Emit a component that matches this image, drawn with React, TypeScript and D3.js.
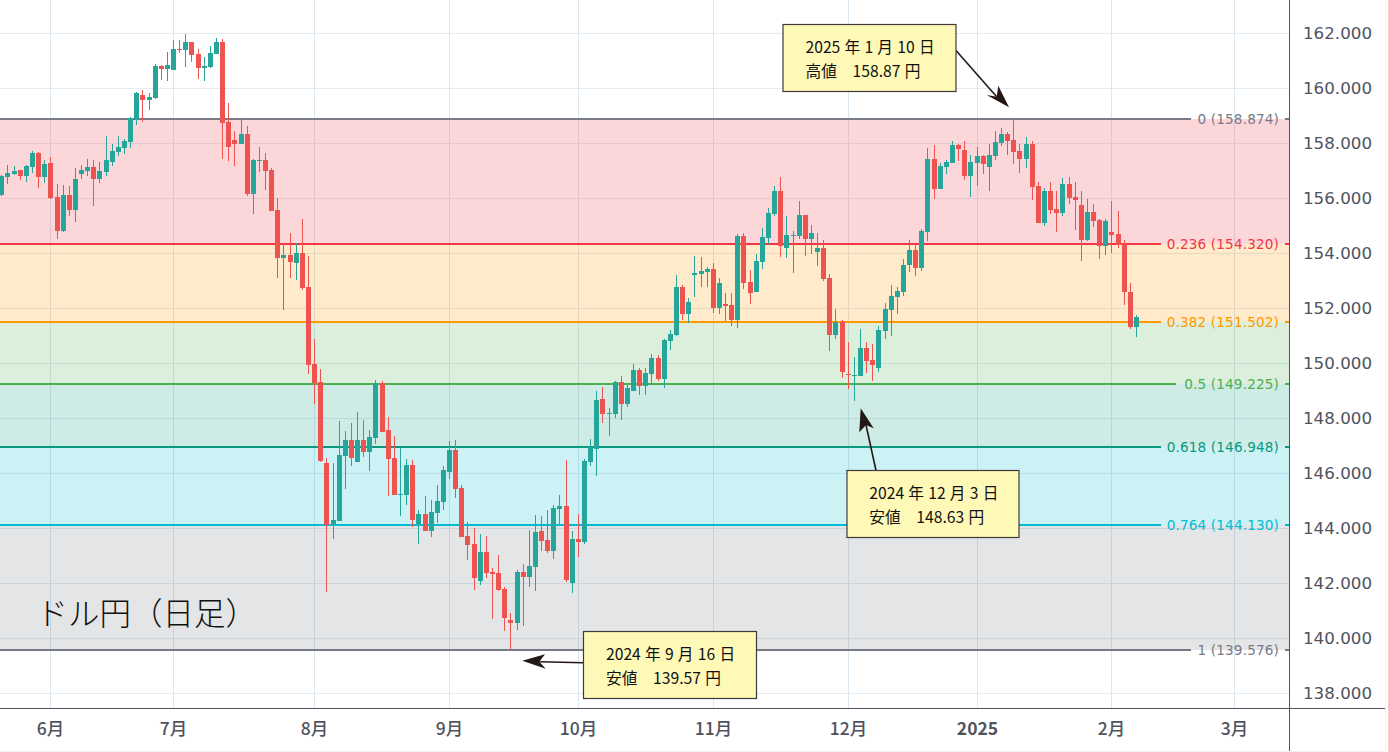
import React from "react";
import * as d3 from "d3";

const opens = [156.11,156.78,156.88,157.03,156.81,157.14,157.65,156.78,157.29,156.05,154.81,156.12,155.58,156.88,156.99,157.14,156.70,156.96,157.32,157.69,157.83,158.05,158.89,159.76,159.58,159.65,160.81,160.70,160.67,161.43,161.39,161.68,161.25,160.74,160.78,161.25,161.68,158.78,158.12,157.98,158.34,156.16,157.36,157.39,157.03,155.58,153.83,153.94,153.65,154.01,152.78,149.97,149.32,146.38,144.12,144.27,146.63,147.21,146.41,147.21,146.78,147.28,149.28,147.58,146.56,145.21,145.21,146.30,144.16,144.52,143.90,144.56,144.96,146.05,146.85,145.47,143.72,143.43,142.08,143.14,142.41,142.37,141.79,140.67,140.56,142.41,142.23,142.59,143.90,143.58,143.18,144.70,144.81,142.01,143.61,143.50,146.41,146.88,148.70,148.16,148.16,149.32,148.52,148.99,149.76,149.18,149.61,150.19,149.43,150.81,151.03,152.78,151.79,153.21,153.25,153.32,153.43,152.01,152.16,152.12,151.58,154.63,152.96,152.59,153.68,154.56,155.43,156.27,154.19,154.63,154.63,155.39,154.52,154.05,154.19,153.10,151.03,151.50,149.61,149.54,149.54,150.56,150.12,149.83,151.18,151.94,152.41,152.59,153.58,154.12,153.47,154.78,157.43,156.34,157.14,157.28,157.94,157.76,156.81,157.28,157.54,157.14,157.54,158.01,158.34,158.12,157.72,157.43,157.98,156.45,155.10,156.27,155.61,155.47,156.52,156.05,155.74,154.49,155.50,155.21,154.27,154.78,154.70,154.34,152.59,151.32];
const highs = [156.85,157.21,157.18,157.03,157.21,157.72,157.69,157.39,157.50,156.52,156.48,156.45,157.10,157.21,157.43,157.39,157.32,158.27,157.98,158.27,158.16,158.96,159.87,159.94,159.80,160.89,160.85,161.32,161.76,161.76,161.98,161.68,161.43,161.14,161.54,161.83,161.79,159.47,158.45,158.89,158.63,157.43,157.87,157.65,157.10,156.01,154.34,154.74,154.38,155.25,153.90,150.88,149.79,146.56,146.38,147.90,147.54,147.83,148.23,147.94,147.58,149.39,149.36,148.05,147.36,146.92,146.52,146.48,144.67,145.18,145.03,145.58,146.27,147.17,147.21,145.58,144.23,144.01,143.79,143.72,142.56,143.03,141.87,140.92,142.49,142.70,143.94,144.48,144.45,144.67,144.85,145.21,146.48,143.90,144.52,146.52,147.25,148.99,149.14,148.38,149.36,149.54,149.25,149.98,149.83,149.83,150.34,150.30,150.88,151.21,153.21,152.85,152.38,153.90,153.87,153.50,153.65,153.10,152.56,152.56,154.70,154.74,153.39,153.98,154.92,155.65,156.45,156.78,155.36,154.81,155.90,155.39,155.03,154.74,154.48,153.25,151.98,151.58,150.78,150.23,151.25,150.78,150.70,151.36,152.19,152.85,152.78,153.79,154.48,154.34,154.89,157.83,157.94,157.28,157.39,158.08,157.98,158.08,157.58,157.87,157.58,157.98,158.45,158.56,158.41,158.87,157.98,158.23,158.08,156.57,156.38,156.59,156.27,156.74,156.78,156.59,156.27,155.98,155.79,155.25,155.25,155.90,155.54,154.49,152.92,151.76];
const lows = [156.09,156.52,156.85,156.67,156.60,156.92,156.38,156.56,155.98,154.52,154.78,155.36,155.14,156.70,156.81,155.72,156.56,156.81,157.18,157.54,157.61,157.83,158.67,158.78,159.21,159.61,160.30,160.27,160.67,161.29,160.78,160.96,160.34,160.27,160.74,161.25,157.43,157.36,157.18,157.98,156.09,155.40,156.96,156.30,155.54,153.10,151.94,153.10,153.03,152.67,149.61,148.52,146.41,141.69,143.61,144.27,145.43,146.27,146.41,146.59,146.08,147.07,147.50,145.18,145.21,144.45,144.85,144.05,143.43,143.90,143.68,144.19,144.67,145.79,145.10,143.68,142.85,141.76,141.94,142.19,140.70,141.72,140.27,139.61,140.30,140.45,141.87,141.72,143.18,143.10,142.88,144.12,142.05,141.65,142.96,143.43,146.27,145.90,147.83,147.36,148.01,147.94,148.41,148.99,148.85,148.85,149.25,149.36,149.10,150.48,150.99,151.58,151.47,152.41,152.78,152.78,151.83,151.79,151.54,151.36,151.29,152.70,152.16,152.59,153.43,154.34,155.36,153.87,153.83,153.28,154.52,153.90,153.98,153.54,152.99,150.45,150.88,149.47,149.07,148.63,149.54,149.65,149.36,149.68,150.88,150.99,151.79,152.45,153.32,153.18,153.36,154.45,155.98,156.34,156.89,157.28,157.36,156.67,156.05,156.45,156.89,156.27,157.39,157.90,157.58,157.25,156.92,157.10,155.94,155.10,154.99,155.43,154.78,155.36,155.77,154.85,153.72,154.45,154.96,153.79,153.94,154.01,154.19,152.12,151.25,150.96];
const closes = [156.81,156.92,156.99,156.81,157.18,157.65,156.78,157.25,156.01,154.81,156.12,155.58,156.70,157.03,157.14,156.70,156.99,157.39,157.72,157.87,158.08,158.92,159.80,159.58,159.69,160.81,160.70,160.85,161.43,161.39,161.68,161.21,160.74,160.81,161.29,161.68,158.74,157.87,157.98,158.34,156.16,157.39,157.39,156.99,155.54,153.83,153.94,153.69,154.01,152.74,149.94,149.27,146.45,144.12,144.30,146.67,147.21,146.56,147.21,146.78,147.32,149.28,147.50,146.52,145.21,145.25,146.30,144.30,144.52,143.90,144.59,144.99,146.12,146.85,145.43,143.68,143.39,142.19,143.14,142.37,142.34,141.76,140.74,140.56,142.41,142.23,142.63,143.87,143.54,143.18,144.74,144.81,142.12,143.61,143.50,146.45,146.96,148.67,148.16,148.19,149.32,148.52,149.10,149.76,149.18,149.65,150.19,149.43,150.85,151.07,152.78,151.79,152.23,153.28,153.36,153.43,152.01,152.92,152.08,151.58,154.63,152.92,152.56,153.72,154.59,155.47,156.27,154.27,154.67,154.67,155.39,154.52,154.74,154.19,153.07,151.03,151.50,149.68,149.58,149.58,150.56,150.09,149.94,151.21,151.98,152.45,152.63,153.58,154.12,153.47,154.81,157.43,156.34,157.18,157.32,157.94,157.79,156.81,157.32,157.54,157.25,157.58,158.05,158.34,158.08,157.69,157.43,157.98,156.41,155.10,156.27,155.58,155.47,156.52,156.01,155.94,154.49,155.50,155.18,154.27,155.18,154.67,154.30,152.58,151.32,151.68];

const priceTicks = [162,160,158,156,154,152,150,148,146,144,142,140,138];
const monthLabels = ["6月","7月","8月","9月","10月","11月","12月","2025","2月","3月"];
const monthIndex = [8,28,51,73,94,116,138,159,181,201];
const fibRatios = ["0","0.236","0.382","0.5","0.618","0.764","1"];
const fibPrices = [158.874,154.320,151.502,149.225,146.948,144.130,139.576];
const fibLine = ["#787b86","#f23645","#ff9800","#4caf50","#089981","#00bcd4","#787b86"];
const fibBand = ["rgba(242,54,69,0.2)","rgba(255,152,0,0.2)","rgba(76,175,80,0.2)","rgba(8,153,129,0.2)","rgba(0,188,212,0.2)","rgba(120,123,134,0.2)"];
const title = "ドル円（日足）";
const notes = [
  { l1: "2025 年 1 月 10 日", l2: "高値　158.87 円" },
  { l1: "2024 年 12 月 3 日", l2: "安値　148.63 円" },
  { l1: "2024 年 9 月 16 日", l2: "安値　139.57 円" },
];

const UP = "#26a69a";
const DOWN = "#ef5350";
const W = 1388, H = 752, PANE_R = 1289, PANE_B = 708;
const AXIS = "#50535e";
const CJK = "'Noto Sans CJK JP', sans-serif";
const LATIN = "'DejaVu Sans', sans-serif";

const y = d3.scaleLinear().domain([138, 162]).range([693, 33]);
const x = d3.scaleLinear().domain([0, 185]).range([1.85, 1136.52]);
const px = (i: number) => Math.floor(x(i));
const fibY = (p: number) => Math.round(y(p) + 0.15);

const boxes = [
  { x: 783, y: 24.5, w: 173, h: 67, tx: 805.5, b1: 53.3, b2: 76.5 },
  { x: 847, y: 470.5, w: 172, h: 67, tx: 869.3, b1: 499.3, b2: 522.5 },
  { x: 583.5, y: 631.5, w: 173, h: 67, tx: 606, b1: 660.3, b2: 683.5 },
];
const arrows = [
  { from: [956, 50.5], to: [996.7, 96.7], head: "1009,107.3 986.7,95 996.7,96.7 998.3,85.7" },
  { from: [876, 470.5], to: [866, 425], head: "860.7,408.3 859.3,432.3 866,425 873.7,428.3" },
  { from: [583.5, 662.7], to: [539.3, 661.7], head: "522.3,660.7 545,654.3 539.3,661.7 545.7,668.7" },
];

export default function App() {
  return (
    <svg width={W} height={H} viewBox={`0 0 ${W} ${H}`} style={{ position: "fixed", left: 0, top: 0, background: "#fff" }}>
      <g shapeRendering="crispEdges">
        {priceTicks.map((t) => (
          <rect key={t} x={0} y={Math.round(y(t)) - 0.5} width={PANE_R} height={1} fill="#e2ecf2" />
        ))}
        {monthIndex.map((m) => (
          <rect key={m} x={px(m)} y={0} width={1} height={PANE_B} fill="#dbe7f0" />
        ))}
        {fibBand.map((c, i) => (
          <rect key={c} x={0} y={fibY(fibPrices[i])} width={PANE_R} height={fibY(fibPrices[i + 1]) - fibY(fibPrices[i])} fill={c} />
        ))}
      </g>
      <g fontFamily={LATIN} fontSize={13.6} textAnchor="end" letterSpacing={0.15}>
        {fibRatios.map((r, i) => {
          const label = `${r} (${fibPrices[i].toFixed(3)})`;
          const end = 1279 - label.length * 7.4 - 7;
          const yy = fibY(fibPrices[i]);
          return (
            <g key={r}>
              <rect x={0} y={yy - 1} width={end} height={2} fill={fibLine[i]} shapeRendering="crispEdges" />
              <rect x={1285} y={yy - 1} width={4} height={2} fill={fibLine[i]} shapeRendering="crispEdges" />
              <text x={1279} y={yy + 5} fill={fibLine[i]}>{label}</text>
            </g>
          );
        })}
      </g>
      <g shapeRendering="crispEdges">
        {closes.map((c, i) => {
          const col = c >= opens[i] ? UP : DOWN;
          const top = Math.round(y(Math.max(opens[i], c)));
          const bot = Math.round(y(Math.min(opens[i], c)));
          const hi = Math.round(y(highs[i]));
          const lo = Math.round(y(lows[i]));
          return (
            <g key={i} fill={col}>
              <rect x={px(i)} y={hi} width={1} height={lo - hi} />
              <rect x={px(i) - 2} y={top} width={5} height={Math.max(1, bot - top)} />
            </g>
          );
        })}
      </g>
      <text x={36.5} y={625} fontFamily={CJK} fontSize={31.5} fontWeight={300} fill="#111">{title}</text>

      {arrows.map((a, i) => (
        <g key={i}>
          <line x1={a.from[0]} y1={a.from[1]} x2={a.to[0]} y2={a.to[1]} stroke="#231815" strokeWidth={1.6} />
          <polygon points={a.head} fill="#231815" />
        </g>
      ))}
      {boxes.map((b, i) => (
        <g key={i}>
          <rect x={b.x} y={b.y} width={b.w} height={b.h} fill="#fff9b8" stroke="#3e3a39" strokeWidth={1.2} />
          <g fontFamily={CJK} fontSize={15.7} fill="#111" wordSpacing={0.7}>
            <text x={b.tx} y={b.b1}>{notes[i].l1}</text>
            <text x={b.tx} y={b.b2}>{notes[i].l2}</text>
          </g>
        </g>
      ))}

      <g shapeRendering="crispEdges">
        <rect x={0} y={PANE_B} width={1385} height={1} fill={AXIS} />
        <rect x={PANE_R} y={0} width={1} height={751} fill={AXIS} />
        <rect x={1385} y={0} width={1} height={751} fill="#f0f0f0" />
        <rect x={0} y={751} width={1386} height={1} fill="#f0f0f0" />
      </g>
      <g fontFamily={LATIN} fontSize={16.7} fill={AXIS}>
        {priceTicks.map((t) => (
          <text key={t} x={1303} y={y(t) + 6}>{t.toFixed(3)}</text>
        ))}
      </g>
      <g fontFamily={CJK} fontSize={17.5} fill={AXIS} textAnchor="middle" fontWeight={500}>
        {monthLabels.map((m, i) => (
          <text key={m} x={px(monthIndex[i]) + 0.5} y={735} fontWeight={m === "2025" ? 700 : 500}>{m}</text>
        ))}
      </g>
    </svg>
  );
}
